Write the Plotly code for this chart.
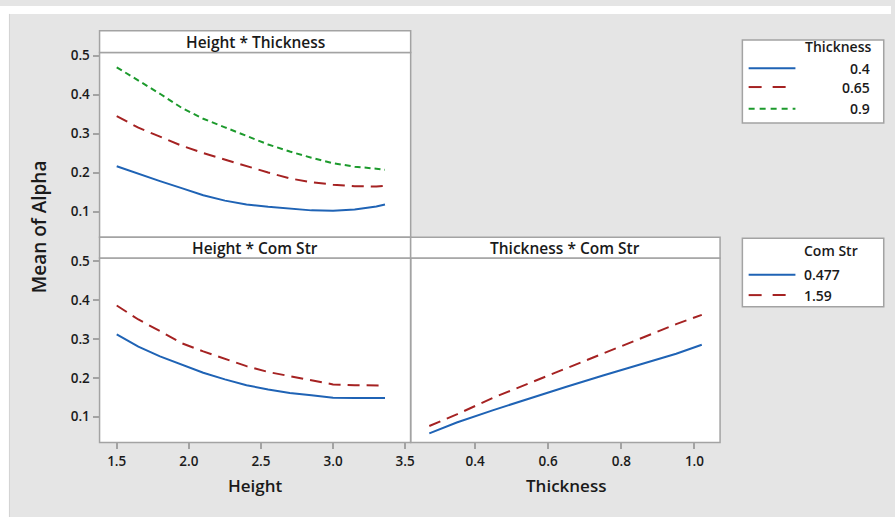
import plotly.graph_objects as go

# ---------------- data ----------------
height = [1.5, 1.65, 1.8, 1.95, 2.1, 2.25, 2.4, 2.55, 2.7, 2.85, 3.0, 3.15, 3.3, 3.36]
hxt_04 = [0.216, 0.196, 0.178, 0.160, 0.142, 0.128, 0.118, 0.112, 0.108, 0.103, 0.102, 0.105, 0.113, 0.118]
hxt_065 = [0.345, 0.315, 0.292, 0.269, 0.250, 0.233, 0.216, 0.200, 0.185, 0.175, 0.169, 0.165, 0.164, 0.166]
hxt_09 = [0.470, 0.437, 0.402, 0.366, 0.338, 0.316, 0.293, 0.272, 0.254, 0.238, 0.224, 0.215, 0.210, 0.207]

hxc_0477 = [0.312, 0.280, 0.255, 0.233, 0.213, 0.196, 0.181, 0.170, 0.161, 0.155, 0.149, 0.148, 0.148, 0.148]
hxc_159 = [0.386, 0.350, 0.320, 0.289, 0.268, 0.248, 0.230, 0.215, 0.204, 0.194, 0.183, 0.181, 0.180, 0.180]

thickness = [0.275, 0.35, 0.45, 0.55, 0.65, 0.75, 0.85, 0.95, 1.02]
txc_0477 = [0.057, 0.085, 0.117, 0.148, 0.177, 0.206, 0.235, 0.262, 0.285]
txc_159 = [0.076, 0.106, 0.149, 0.187, 0.224, 0.263, 0.300, 0.338, 0.362]

y_ticks = [0.1, 0.2, 0.3, 0.4, 0.5]
height_ticks = [1.5, 2.0, 2.5, 3.0, 3.5]
thickness_ticks = [0.4, 0.6, 0.8, 1.0]

thick_levels = ["0.4", "0.65", "0.9"]
com_levels = ["0.477", "1.59"]

# ---------------- style ----------------
W, H = 895, 517
BLUE = "#1f63b5"
RED = "#a52222"
GREEN = "#1c9a2c"
BORDER = "#a3a3a3"
BG = "#e5e5e5"
FONT = "Open Sans"
TXT = "#1a1a1a"

RED_DASH = "12px,7px"
GREEN_DASH = "6px,4px"


def px(x):
    return x / W


def py(y):
    return 1 - y / H


fig = go.Figure()

# traces
fig.add_trace(go.Scatter(x=height, y=hxt_04, mode="lines", line=dict(color=BLUE, width=2),
                         xaxis="x", yaxis="y", showlegend=False))
fig.add_trace(go.Scatter(x=height, y=hxt_065, mode="lines", line=dict(color=RED, width=2, dash=RED_DASH),
                         xaxis="x", yaxis="y", showlegend=False))
fig.add_trace(go.Scatter(x=height, y=hxt_09, mode="lines", line=dict(color=GREEN, width=2, dash=GREEN_DASH),
                         xaxis="x", yaxis="y", showlegend=False))
fig.add_trace(go.Scatter(x=height, y=hxc_0477, mode="lines", line=dict(color=BLUE, width=2),
                         xaxis="x2", yaxis="y2", showlegend=False))
fig.add_trace(go.Scatter(x=height, y=hxc_159, mode="lines", line=dict(color=RED, width=2, dash=RED_DASH),
                         xaxis="x2", yaxis="y2", showlegend=False))
fig.add_trace(go.Scatter(x=thickness, y=txc_0477, mode="lines", line=dict(color=BLUE, width=2),
                         xaxis="x3", yaxis="y3", showlegend=False))
fig.add_trace(go.Scatter(x=thickness, y=txc_159, mode="lines", line=dict(color=RED, width=2, dash=RED_DASH),
                         xaxis="x3", yaxis="y3", showlegend=False))

# geometry (pixels)
LX0, LX1 = 100, 412.5
RX0, RX1 = 412.5, 723.3
T_STRIP0, T_STRIP1, T_PLOT1 = 25, 47, 234
B_STRIP0, B_STRIP1, B_PLOT1 = 234, 255, 441.5

YRANGE = [0.034, 0.508]
tickfont = dict(family=FONT, size=13.5, color=TXT, weight=600)

common_axis = dict(showgrid=False, zeroline=False, showline=False, tickfont=tickfont)

fig.update_layout(
    width=W, height=H,
    margin=dict(l=0, r=0, t=0, b=0),
    paper_bgcolor=BG,
    plot_bgcolor="white",
    xaxis=dict(domain=[px(LX0), px(LX1)], range=[1.381, 3.538], anchor="y",
               showticklabels=False, ticks="", **common_axis),
    yaxis=dict(domain=[py(T_PLOT1), py(T_STRIP1)], range=YRANGE, anchor="x",
               tickvals=y_ticks, ticktext=[f"{v:.1f}" for v in y_ticks],
               ticks="outside", ticklen=6, tickcolor=BORDER, tickwidth=1.5, **common_axis),
    xaxis2=dict(domain=[px(LX0), px(LX1)], range=[1.381, 3.538], anchor="y2",
                tickvals=height_ticks, ticktext=[f"{v:.1f}" for v in height_ticks],
                ticks="outside", ticklen=6, tickcolor=BORDER, tickwidth=1.5, **common_axis),
    yaxis2=dict(domain=[py(B_PLOT1), py(B_STRIP1)], range=YRANGE, anchor="x2",
                tickvals=y_ticks, ticktext=[f"{v:.1f}" for v in y_ticks],
                ticks="outside", ticklen=6, tickcolor=BORDER, tickwidth=1.5, **common_axis),
    xaxis3=dict(domain=[px(RX0), px(RX1)], range=[0.224, 1.07], anchor="y3",
                tickvals=thickness_ticks, ticktext=[f"{v:.1f}" for v in thickness_ticks],
                ticks="outside", ticklen=6, tickcolor=BORDER, tickwidth=1.5, **common_axis),
    yaxis3=dict(domain=[py(B_PLOT1), py(B_STRIP1)], range=YRANGE, anchor="x3",
                showticklabels=False, ticks="", **common_axis),
)

shapes = []
annotations = []

# white outer margins (top and left) + thin edge line
shapes.append(dict(type="rect", xref="paper", yref="paper", x0=0, x1=1, y0=py(8), y1=1,
                   fillcolor="white", line=dict(width=0), layer="below"))
shapes.append(dict(type="rect", xref="paper", yref="paper", x0=0, x1=px(9), y0=0, y1=1,
                   fillcolor="white", line=dict(width=0), layer="below"))
shapes.append(dict(type="line", xref="paper", yref="paper", x0=px(9.5), x1=px(9.5), y0=0, y1=py(8),
                   line=dict(color="#d4d4d4", width=1), layer="below"))

# panel frames (drawn as paper rectangles so borders are shared exactly)
def frame(x0, x1, y0, y1):
    shapes.append(dict(type="rect", xref="paper", yref="paper", x0=px(x0), x1=px(x1), y0=py(y1), y1=py(y0),
                       fillcolor="rgba(0,0,0,0)", line=dict(color=BORDER, width=1.5), layer="above"))

frame(LX0, LX1, T_STRIP1, T_PLOT1)
frame(LX0, LX1, B_STRIP1, B_PLOT1)
frame(RX0, RX1, B_STRIP1, B_PLOT1)

# strips
def strip(x0, x1, y0, y1, text):
    shapes.append(dict(type="rect", xref="paper", yref="paper", x0=px(x0), x1=px(x1), y0=py(y1), y1=py(y0),
                       fillcolor="white", line=dict(color=BORDER, width=1.5)))
    annotations.append(dict(xref="paper", yref="paper", x=px((x0 + x1) / 2), y=py((y0 + y1) / 2 + 0.5),
                            text=text, showarrow=False, xanchor="center", yanchor="middle",
                            font=dict(family=FONT, size=15.5, color=TXT, weight=600)))

strip(LX0, LX1, T_STRIP0, T_STRIP1, "Height * Thickness")
strip(LX0, LX1, B_STRIP0, B_STRIP1, "Height * Com Str")
strip(RX0, RX1, B_STRIP0, B_STRIP1, "Thickness * Com Str")

# axis titles
annotations.append(dict(xref="paper", yref="paper", x=px(40), y=py(223), text="Mean of Alpha",
                        textangle=-90, showarrow=False, xanchor="center", yanchor="middle",
                        font=dict(family=FONT, size=19, color=TXT, weight=600)))
annotations.append(dict(xref="paper", yref="paper", x=px(257), y=py(485), text="Height",
                        showarrow=False, xanchor="center", yanchor="middle",
                        font=dict(family=FONT, size=17, color=TXT, weight=600)))
annotations.append(dict(xref="paper", yref="paper", x=px(569), y=py(485), text="Thickness",
                        showarrow=False, xanchor="center", yanchor="middle",
                        font=dict(family=FONT, size=17, color=TXT, weight=600)))

# legends
def legend_box(x0, x1, y0, y1):
    shapes.append(dict(type="rect", xref="paper", yref="paper", x0=px(x0), x1=px(x1), y0=py(y1), y1=py(y0),
                       fillcolor="white", line=dict(color=BORDER, width=1.5)))

def legend_line(y, color, dash):
    shapes.append(dict(type="line", xref="paper", yref="paper", x0=px(752), x1=px(799), y0=py(y), y1=py(y),
                       line=dict(color=color, width=2, dash=dash)))

def legend_text(x, y, text, anchor):
    annotations.append(dict(xref="paper", yref="paper", x=px(x), y=py(y), text=text, showarrow=False,
                            xanchor=anchor, yanchor="middle",
                            font=dict(family=FONT, size=14, color=TXT, weight=600)))

legend_box(745.7, 887.7, 34.3, 118.3)
legend_text(877, 41, "Thickness", "right")
for lvl, yy, col, dsh in zip(thick_levels, [63, 82, 104], [BLUE, RED, GREEN], ["solid", "13px,11px", "6px,5px"]):
    legend_line(yy, col, dsh)
    legend_text(876, yy, lvl, "right")

legend_box(745.7, 887.7, 235, 304.3)
legend_text(806, 247, "Com Str", "left")
for lvl, yy, col, dsh in zip(com_levels, [272, 292.5], [BLUE, RED], ["solid", "13px,11px"]):
    legend_line(yy, col, dsh)
    legend_text(806, yy, lvl, "left")

fig.update_layout(shapes=shapes, annotations=annotations)

fig.write_html("out.html", config={"displayModeBar": False},
               post_script="document.body.style.margin='0';document.body.style.padding='0';")
